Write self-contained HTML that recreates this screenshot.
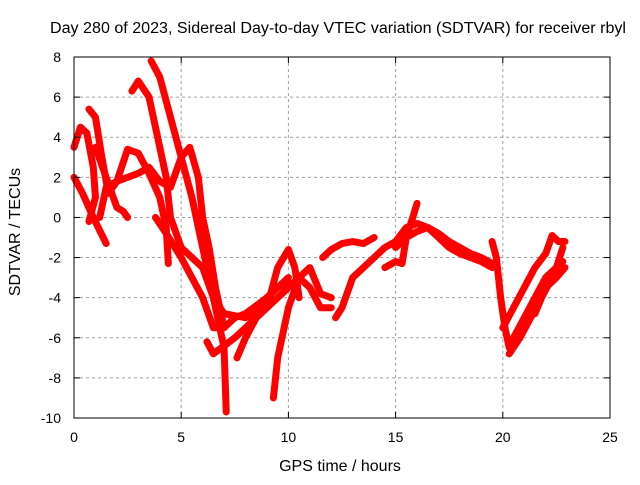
<!DOCTYPE html>
<html><head><meta charset="utf-8"><style>
body{margin:0;background:#fff}
svg text{font-family:"Liberation Sans",sans-serif;font-size:14px;fill:#000}
</style></head><body>
<svg width="640" height="480" viewBox="0 0 640 480">
<rect width="640" height="480" fill="#fff"/>
<g id="grid"></g>
<g id="series"></g>
<g id="axes"></g>
<text x="338" y="33" text-anchor="middle" textLength="576" lengthAdjust="spacingAndGlyphs" style="font-size:15.5px">Day 280 of 2023, Sidereal Day-to-day VTEC variation (SDTVAR) for receiver rbyl</text>
<text x="340" y="471" text-anchor="middle" style="font-size:16px">GPS time / hours</text>
<text transform="translate(20,232) rotate(-90)" text-anchor="middle" style="font-size:16px">SDTVAR / TECUs</text>
</svg>
<script>
const xTicks=[0,5,10,15,20,25];
const yTicks=[-10,-8,-6,-4,-2,0,2,4,6,8];
const T1=[[0,2],[0.4,1.2],[0.9,0],[1.5,-1.3]];
const T2=[[0,3.5],[0.3,4.5],[0.6,4.2],[0.9,2.5],[1,1],[0.7,-0.2]];
const T3=[[0.7,5.4],[1,5],[1.3,3],[1.6,1.2],[2,1.8],[2.5,3.4],[3,3.2],[3.5,2.2],[4,1],[4.3,-0.5],[4.4,-2.3]];
const T4=[[1.2,0],[1.5,1.5],[2,1.8],[2.5,2],[3,2.2],[3.5,2.5],[4,1.8],[4.5,1.5],[5,3],[5.4,3.5],[5.8,2],[6,0],[6.3,-1.5],[6.6,-3.5],[7,-5.5]];
const T5=[[3.6,7.8],[4,7],[4.5,5],[5,3],[5.5,1],[6,-1.5],[6.5,-4],[7,-6.5],[7.1,-9.7]];
const T6=[[2.7,6.3],[3,6.8],[3.5,6],[4,3.5],[4.3,2],[4.5,0],[5,-1.5],[5.5,-2],[6,-2.5],[6.5,-4],[7,-4.8],[8,-5],[9,-4.5],[10,-3.5],[10.5,-3],[11,-3.5],[11.5,-4.5],[12,-4.5]];
const T7=[[1,3.5],[1.5,2],[2,0.5],[2.3,0.3],[2.5,0]];
const T8=[[3.8,0],[4.3,-0.8],[5,-2],[5.5,-3],[6,-4],[6.5,-5.5],[7,-5.5],[7.5,-5],[8,-4.8],[9,-4],[9.5,-3.5],[10,-3]];
const T9=[[6.2,-6.2],[6.5,-6.8],[7.5,-6],[8,-5.5],[9,-4.5],[9.5,-2.5],[10,-1.6],[10.3,-2.5],[10.5,-4]];
const T10=[[7.6,-7],[8,-6],[8.5,-5],[9,-4],[9.5,-3.5],[10,-3.2]];
const T11=[[9.3,-9],[9.5,-7],[10,-4.5],[10.5,-3],[11,-2.5],[11.5,-3.8],[12,-4]];
const T12=[[11.6,-2],[12,-1.6],[12.5,-1.3],[13,-1.2],[13.5,-1.3],[14,-1]];
const T13=[[12.2,-5],[12.5,-4.5],[13,-3],[13.5,-2.5],[14,-2],[14.5,-1.5],[15,-1.2],[15.5,-0.5],[16,-0.3],[16.5,-0.5],[17,-1],[17.5,-1.5],[18,-1.8],[18.5,-2],[19,-2.2],[19.5,-2.5]];
const T14=[[14.5,-2.5],[15,-2.2],[15.3,-2.3],[15.5,-1],[15.8,0],[16,0.7]];
const T15=[[15,-1.5],[15.5,-1],[16,-0.7],[16.5,-0.5],[17,-0.8],[17.5,-1.2],[18,-1.5],[18.5,-1.8],[19,-2],[19.5,-2.3]];
const T16=[[19.5,-1.2],[19.7,-2],[19.9,-4],[20.1,-5.5],[20.3,-6.5],[20.5,-6],[21,-5],[21.5,-4],[22,-3],[22.5,-2.5],[22.8,-1.5]];
const T17=[[20,-5.5],[20.5,-4.5],[21,-3.5],[21.5,-2.5],[22,-1.8],[22.3,-0.9],[22.6,-1.2],[22.9,-1.2]];
const T18=[[20.3,-6.8],[20.8,-6],[21.3,-5],[21.8,-4],[22.3,-3],[22.8,-2.2]];
const T19=[[21.5,-4.8],[22,-3.5],[22.5,-3],[22.9,-2.5]];
const tracks=[T1,T2,T3,T4,T5,T6,T7,T8,T9,T10,T11,T12,T13,T14,T15,T16,T17,T18,T19];
const L=74,R=610,Top=57,B=418;
const xs=v=>L+(v-0)/25*(R-L);
const ys=v=>B-(v+10)/18*(B-Top);
const NS='http://www.w3.org/2000/svg';
function mk(tag,attrs,parent){const e=document.createElementNS(NS,tag);for(const k in attrs)e.setAttribute(k,attrs[k]);parent.appendChild(e);return e;}
const grid=document.getElementById('grid'),axes=document.getElementById('axes'),ser=document.getElementById('series');
xTicks.forEach(t=>{
 const x=xs(t);
 if(t>0&&t<25){const g=mk('line',{x1:x,x2:x,y1:Top,y2:B,stroke:'#a0a0a0','stroke-dasharray':'3,3'},grid);
 }
 mk('line',{x1:x,x2:x,y1:B,y2:B-6,stroke:'#000'},axes);
 mk('line',{x1:x,x2:x,y1:Top,y2:Top+6,stroke:'#000'},axes);
 const tx=mk('text',{x:x,y:B+24,'text-anchor':'middle'},axes);tx.textContent=t;
 
});
yTicks.forEach(t=>{
 const y=ys(t);
 if(t>-10&&t<8){const g=mk('line',{x1:L,x2:R,y1:y,y2:y,stroke:'#a0a0a0','stroke-dasharray':'3,3'},grid);
 }
 mk('line',{x1:L,x2:L+6,y1:y,y2:y,stroke:'#000'},axes);
 mk('line',{x1:R,x2:R-6,y1:y,y2:y,stroke:'#000'},axes);
 const tx=mk('text',{x:L-13,y:y+5,'text-anchor':'end'},axes);tx.textContent=t;
 
});
const fr=mk('rect',{x:L,y:Top,width:R-L,height:B-Top,fill:'none',stroke:'#000'},axes);

tracks.forEach((tr,i)=>{
 const p=mk('polyline',{points:tr.map(d=>xs(d[0])+','+ys(d[1])).join(' '),fill:'none',stroke:'#ff0000','stroke-width':7,'stroke-linejoin':'round','stroke-linecap':'round'},ser);
 
 
});
</script>
</body></html>
